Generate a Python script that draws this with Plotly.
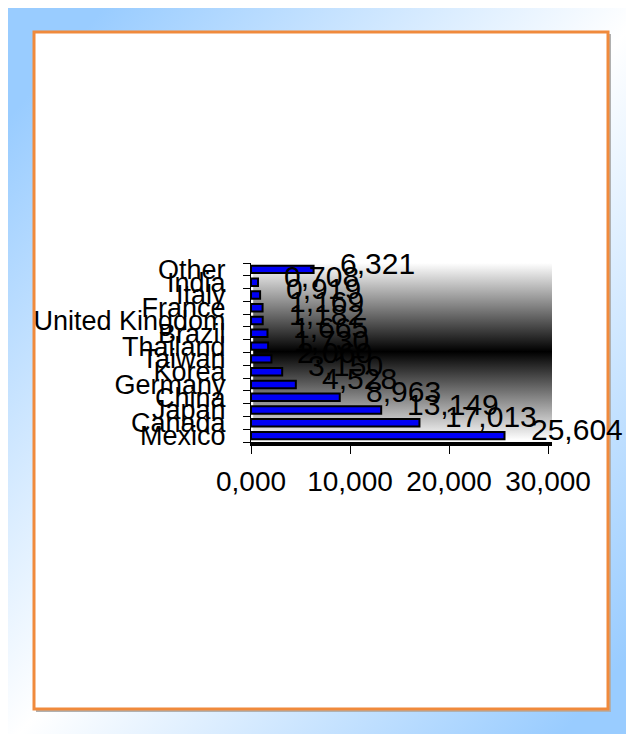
import base64
import plotly.graph_objects as go

# ---- data ----
categories = ["Mexico", "Canada", "Japan", "China", "Germany", "Korea", "Taiwan",
              "Thailand", "Brazil", "United Kingdom", "France", "Italy", "India", "Other"]
values = [25604, 17013, 13149, 8963, 4528, 3150, 2060, 1730, 1665, 1182, 1169, 919, 708, 6321]
tick_values = [0, 10000, 20000, 30000]
tick_labels = ["0,000", "10,000", "20,000", "30,000"]


def fmt(v):
    return f"{v // 1000},{v % 1000:03d}"


value_labels = [fmt(v) for v in values]

W, H = 634, 734
OFF = 8  # page body margin
FONT = "Liberation Sans, Arial, sans-serif"


def px(x):
    return (x - OFF) / W


def py(y):
    return 1 - (y - OFF) / H


def svg_uri(svg):
    return "data:image/svg+xml;base64," + base64.b64encode(svg.encode()).decode()


bg_svg = (
    '<svg xmlns="http://www.w3.org/2000/svg" width="634" height="734" viewBox="0 0 634 734" '
    'preserveAspectRatio="none">'
    '<defs><linearGradient id="g" x1="0" y1="0" x2="1" y2="1">'
    '<stop offset="0" stop-color="#99ccff"/><stop offset="0.08" stop-color="#99ccff"/>'
    '<stop offset="0.5" stop-color="#ffffff"/>'
    '<stop offset="0.92" stop-color="#99ccff"/><stop offset="1" stop-color="#99ccff"/>'
    '</linearGradient></defs>'
    '<rect width="634" height="734" fill="url(#g)"/></svg>'
)
wall_svg = (
    '<svg xmlns="http://www.w3.org/2000/svg" width="300" height="180" viewBox="0 0 300 180" '
    'preserveAspectRatio="none">'
    '<defs><linearGradient id="w" x1="0" y1="0" x2="0" y2="1">'
    '<stop offset="0" stop-color="#ffffff"/><stop offset="0.5" stop-color="#000000"/>'
    '<stop offset="1" stop-color="#ffffff"/>'
    '</linearGradient></defs>'
    '<rect width="300" height="180" fill="url(#w)"/></svg>'
)

fig = go.Figure()
fig.add_trace(go.Bar(
    x=values, y=categories, orientation="h",
    marker=dict(color="#0000f5", line=dict(color="#000000", width=2)),
    width=0.58, hoverinfo="skip",
))

for v, c, lab in zip(values, categories, value_labels):
    fig.add_annotation(x=v, y=c, text=lab, showarrow=False, xanchor="left", yanchor="middle",
                       xshift=24, yshift=6, font=dict(family=FONT, size=30, color="#000000"))

fig.update_layout(
    width=W, height=H,
    margin=dict(l=0, r=0, t=0, b=0, pad=0, autoexpand=False),
    paper_bgcolor="#ffffff", plot_bgcolor="rgba(0,0,0,0)",
    showlegend=False,
    font=dict(family=FONT, color="#000000"),
    xaxis=dict(domain=[px(251), px(552)], range=[0, 30400], tickmode="array",
               tickvals=tick_values, ticktext=tick_labels, tickangle=0, automargin=False,
               showgrid=False, zeroline=False, showline=True, linecolor="#000000", linewidth=4,
               ticks="outside", ticklen=8, tickcolor="#000000", tickwidth=1,
               tickfont=dict(size=28, family=FONT), ticklabelstandoff=3, fixedrange=True),
    yaxis=dict(domain=[py(442), py(263)], type="category", categoryorder="array", categoryarray=categories,
               range=[-0.5, len(categories) - 0.5], tickmode="linear", tick0=0, dtick=1,
               automargin=False,
               showgrid=False, zeroline=False, showline=True, linecolor="#000000", linewidth=1,
               ticks="outside", ticklen=7, tickcolor="#000000", tickson="boundaries",
               tickfont=dict(size=27, family=FONT), ticklabelstandoff=19, fixedrange=True),
    images=[
        dict(source=svg_uri(bg_svg), xref="paper", yref="paper", x=px(4), y=py(3),
             sizex=1.02, sizey=1.02, sizing="stretch", xanchor="left", yanchor="top",
             layer="below"),
        dict(source=svg_uri(wall_svg), xref="x domain", yref="y domain", x=0.007, y=1,
             sizex=0.993, sizey=0.99, sizing="stretch", xanchor="left", yanchor="top",
             layer="below"),
    ],
    shapes=[
        dict(type="rect", xref="paper", yref="paper", x0=px(36), x1=px(611), y0=py(712), y1=py(34),
             fillcolor="#b0b0b0", line=dict(width=0), layer="below"),
        dict(type="rect", xref="paper", yref="paper", x0=px(34), x1=px(608), y0=py(709), y1=py(32),
             fillcolor="#ffffff", line=dict(color="#f08a3c", width=3), layer="below"),
    ],
)

fig.write_html("out.html")
